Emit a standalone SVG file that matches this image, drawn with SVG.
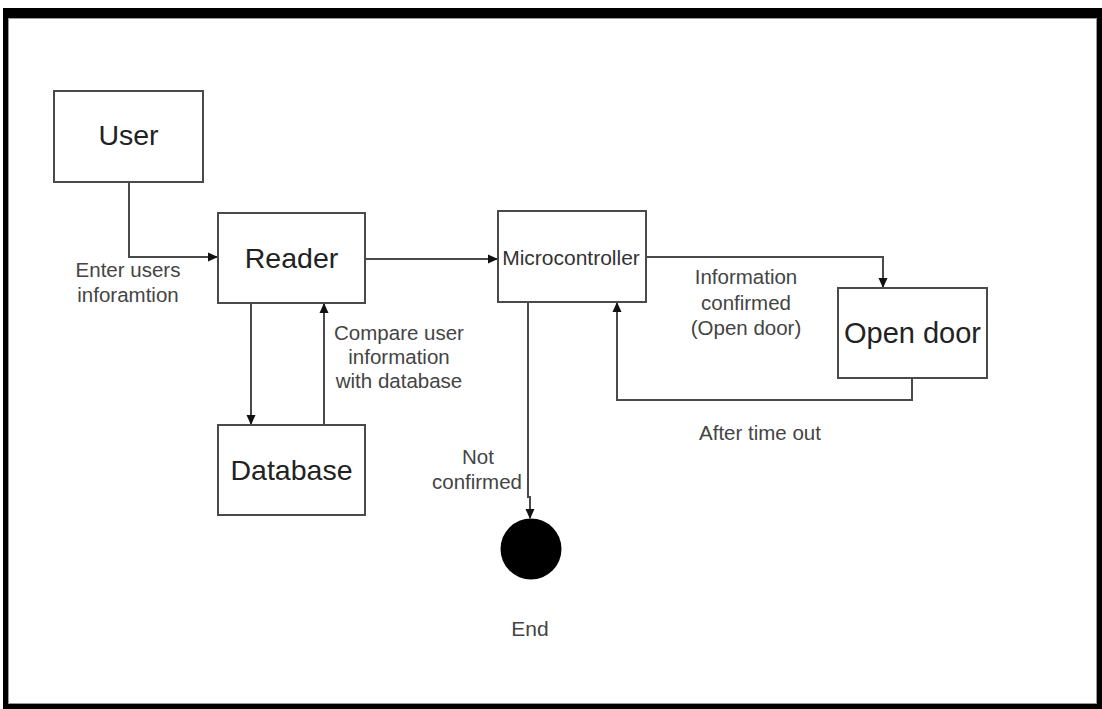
<svg xmlns="http://www.w3.org/2000/svg" width="1102" height="709" viewBox="0 0 1102 709">
<style>
.box{fill:#fff;stroke:#4a4a4a;stroke-width:2}
.ln{fill:none;stroke:#4a4a4a;stroke-width:2}
.big{font-family:"Liberation Sans",Arial,sans-serif;font-size:28.5px;fill:#222;text-anchor:middle}
.lbl{font-family:"Liberation Sans",Arial,sans-serif;font-size:20.5px;fill:#444;text-anchor:middle}
</style>
<defs>
<marker id="ah" markerWidth="10" markerHeight="10" refX="9" refY="5" orient="auto" markerUnits="userSpaceOnUse">
<path d="M0,0.5 L10,5 L0,9.5 Z" fill="#111"/>
</marker>
</defs>
<rect x="0" y="0" width="1102" height="709" fill="#fff"/>
<path d="M3,8 H1102 V709 H3 Z M8,18 V704 H1097 V18 Z" fill="#000" fill-rule="evenodd"/>
<rect x="8.5" y="18.5" width="1088" height="685" fill="none" stroke="#999" stroke-width="1"/>

<g id="connectors">
<path class="ln" d="M129,182 V257 H217" marker-end="url(#ah)"/>
<path class="ln" d="M365,259 H497" marker-end="url(#ah)"/>
<path class="ln" d="M251,303 V424" marker-end="url(#ah)"/>
<path class="ln" d="M324,425 V304" marker-end="url(#ah)"/>
<path class="ln" d="M646,257 H883 V287" marker-end="url(#ah)"/>
<path class="ln" d="M912,378 V400 H617 V303" marker-end="url(#ah)"/>
<path class="ln" d="M528,302 V497 H530 V518" marker-end="url(#ah)"/>
</g>

<g id="user">
<rect class="box" x="54" y="91" width="149" height="91"/>
<text class="big" x="128.5" y="145">User</text>
</g>
<g id="reader">
<rect class="box" x="218" y="213" width="147" height="90"/>
<text class="big" x="291.5" y="268">Reader</text>
</g>
<g id="microcontroller">
<rect class="box" x="498" y="211" width="148" height="91"/>
<text class="lbl" x="571" y="265" style="font-size:21px;fill:#333">Microcontroller</text>
</g>
<g id="opendoor">
<rect class="box" x="838" y="288" width="149" height="90"/>
<text class="big" x="912.5" y="343" style="font-size:29px">Open door</text>
</g>
<g id="database">
<rect class="box" x="218" y="425" width="147" height="90"/>
<text class="big" x="291.5" y="480">Database</text>
</g>
<g id="end">
<circle cx="531" cy="549" r="30.5" fill="#000"/>
<text class="lbl" x="530" y="636" style="font-size:21px">End</text>
</g>

<g id="labels">
<text class="lbl" x="128" y="277">Enter users</text>
<text class="lbl" x="128" y="302">inforamtion</text>
<text class="lbl" x="399" y="340">Compare user</text>
<text class="lbl" x="399" y="364">information</text>
<text class="lbl" x="399" y="388">with database</text>
<text class="lbl" x="478" y="464">Not</text>
<text class="lbl" x="522" y="489" style="text-anchor:end">confirmed</text>
<text class="lbl" x="746" y="284">Information</text>
<text class="lbl" x="746" y="310">confirmed</text>
<text class="lbl" x="746" y="335">(Open door)</text>
<text class="lbl" x="760" y="440">After time out</text>
</g>
</svg>
